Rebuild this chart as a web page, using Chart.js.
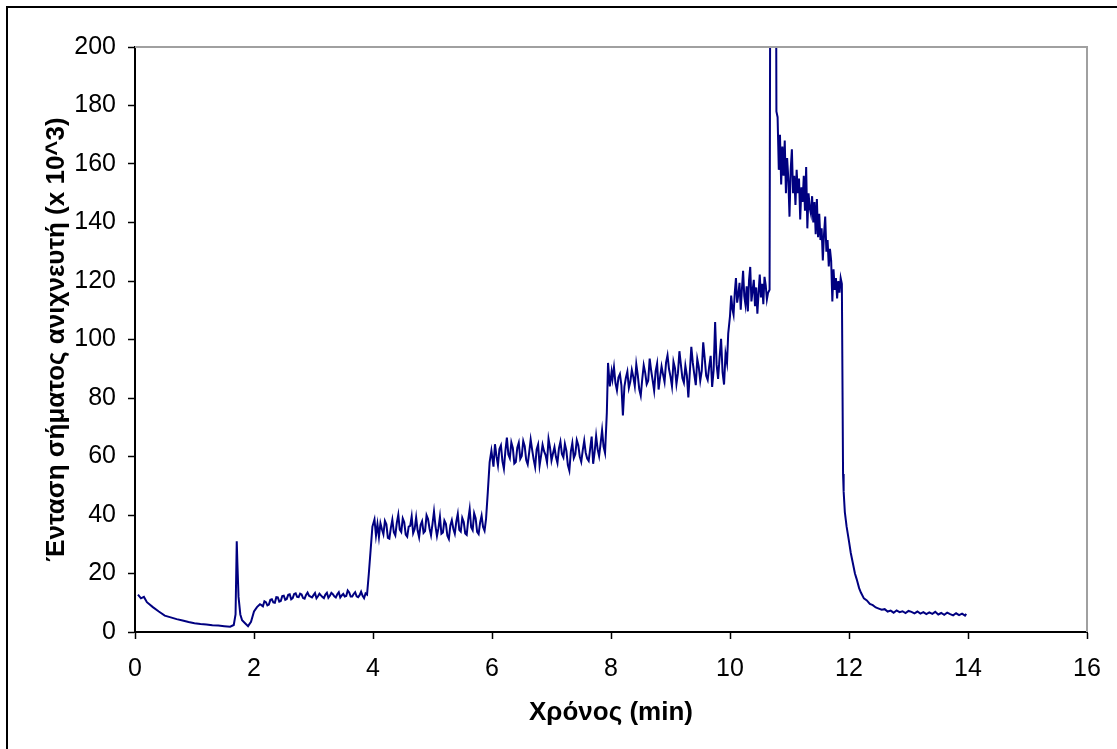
<!DOCTYPE html>
<html>
<head>
<meta charset="utf-8">
<script src="https://cdn.jsdelivr.net/npm/chart.js@4/dist/chart.umd.min.js"></script>
<style>
  html, body { margin: 0; padding: 0; background: #fff; }
  canvas { display: block; }
</style>
</head>
<body>
<canvas id="chart" width="1117" height="749"></canvas>
<script>
// detector signal (x 10^3) against time (min)
const tDecay = [0.05, 0.1, 0.15, 0.2, 0.3, 0.4, 0.5, 0.6, 0.7, 0.8, 0.9, 1.0, 1.1, 1.2, 1.3, 1.4, 1.5, 1.6, 1.66];
const yDecay = [12.8, 11.5, 12.0, 10.2, 8.5, 7.0, 5.6, 5.0, 4.4, 3.9, 3.4, 3.0, 2.7, 2.6, 2.3, 2.2, 2.0, 1.8, 2.4];

const tSpike = [1.69, 1.71, 1.72, 1.74, 1.77, 1.8, 1.85, 1.9, 1.95, 2.0, 2.05, 2.1];
const ySpike = [6, 31, 24, 12, 6, 4, 3, 2.0, 3.5, 7, 8.5, 9.5];

const tLevel1 = [2.125, 2.15, 2.175, 2.2, 2.225, 2.25, 2.275, 2.3, 2.325, 2.35, 2.375, 2.4, 2.425, 2.45, 2.475, 2.5,
                 2.525, 2.55, 2.575, 2.6, 2.625, 2.65, 2.675, 2.7, 2.725, 2.75, 2.775, 2.8, 2.825, 2.85, 2.875, 2.9,
                 2.925, 2.95, 2.975, 3.0, 3.025, 3.05, 3.075, 3.1, 3.125, 3.15, 3.175, 3.2, 3.225, 3.25, 3.275, 3.3,
                 3.325, 3.35, 3.375, 3.4, 3.425, 3.45, 3.475, 3.5, 3.525, 3.55, 3.575, 3.6, 3.625, 3.65, 3.675, 3.7,
                 3.725, 3.75, 3.775, 3.8, 3.825, 3.85, 3.875, 3.9];
const yLevel1 = [9.2, 8.8, 10.5, 10.2, 9.1, 9.4, 11.0, 11.2, 10.1, 10.0, 11.9, 11.8, 10.4, 10.6, 12.3, 12.4,
                 11.0, 11.3, 12.7, 12.9, 11.2, 11.6, 13.0, 13.2, 12.0, 11.9, 13.1, 12.8, 11.6, 11.4, 12.7, 13.5,
                 12.4, 12.1, 11.8, 12.6, 13.3, 11.5, 12.2, 13.1, 12.5, 12.0, 11.6, 12.8, 13.4, 11.7, 12.4, 13.4,
                 12.9, 12.2, 11.8, 12.9, 13.6, 11.8, 12.5, 13.0, 12.1, 12.3, 14.2, 13.5, 12.1, 12.1, 13.0, 13.6,
                 12.2, 11.9, 12.6, 13.8, 12.4, 11.6, 13.2, 12.8];

const tStep1 = [3.93, 3.96, 3.99];
const yStep1 = [20, 28, 36];

const tLevel2 = [4.025, 4.05, 4.075, 4.1, 4.125, 4.15, 4.175, 4.2, 4.225, 4.25, 4.275, 4.3, 4.325, 4.35, 4.375, 4.4,
                 4.425, 4.45, 4.475, 4.5, 4.525, 4.55, 4.575, 4.6, 4.625, 4.65, 4.675, 4.7, 4.725, 4.75, 4.775, 4.8,
                 4.825, 4.85, 4.875, 4.9, 4.925, 4.95, 4.975, 5.0, 5.025, 5.05, 5.075, 5.1, 5.125, 5.15, 5.175, 5.2,
                 5.225, 5.25, 5.275, 5.3, 5.325, 5.35, 5.375, 5.4, 5.425, 5.45, 5.475, 5.5, 5.525, 5.55, 5.575, 5.6,
                 5.625, 5.65, 5.675, 5.7, 5.725, 5.75, 5.775, 5.8, 5.825, 5.85, 5.875, 5.9];
const yLevel2 = [38.5, 33.0, 36.9, 32.5, 37.2, 35.1, 33.4, 38.0, 36.8, 32.2, 31.9, 35.6, 38.4, 34.1, 33.0, 37.3,
                 40.1, 35.0, 34.2, 38.8, 37.5, 33.3, 32.6, 36.0, 36.3, 39.5, 33.8, 35.2, 39.2, 34.7, 32.4, 36.6,
                 37.9, 33.9, 34.5, 39.9, 38.6, 35.4, 33.1, 37.0, 41.2, 36.2, 32.8, 35.5, 39.4, 33.6, 34.0, 38.1,
                 37.0, 32.9, 31.8, 36.4, 38.2, 35.3, 33.6, 37.7, 40.4, 34.9, 34.3, 39.0, 37.6, 33.7, 33.2, 38.3,
                 42.0, 35.8, 34.8, 40.6, 38.9, 34.2, 33.5, 37.4, 39.8, 35.9, 34.6, 38.7];

const tStep2 = [5.93, 5.96, 5.99];
const yStep2 = [48, 58, 62];

const tLevel3 = [6.025, 6.05, 6.075, 6.1, 6.125, 6.15, 6.175, 6.2, 6.225, 6.25, 6.275, 6.3, 6.325, 6.35, 6.375, 6.4,
                 6.425, 6.45, 6.475, 6.5, 6.525, 6.55, 6.575, 6.6, 6.625, 6.65, 6.675, 6.7, 6.725, 6.75, 6.775, 6.8,
                 6.825, 6.85, 6.875, 6.9, 6.925, 6.95, 6.975, 7.0, 7.025, 7.05, 7.075, 7.1, 7.125, 7.15, 7.175, 7.2,
                 7.225, 7.25, 7.275, 7.3, 7.325, 7.35, 7.375, 7.4, 7.425, 7.45, 7.475, 7.5, 7.525, 7.55, 7.575, 7.6,
                 7.625, 7.65, 7.675, 7.7, 7.725, 7.75, 7.775, 7.8, 7.825, 7.85, 7.875, 7.9];
const yLevel3 = [56.5, 64.2, 60.1, 57.0, 62.6, 63.8, 58.4, 55.8, 61.9, 66.5, 60.7, 59.4, 64.8, 62.9, 57.6, 58.1,
                 63.0, 64.7, 59.2, 60.2, 65.3, 63.5, 58.8, 57.3, 61.4, 65.8, 62.3, 59.0, 56.4, 62.4, 64.1, 56.9,
                 60.3, 64.0, 61.8, 60.5, 58.0, 66.0, 63.1, 58.6, 61.0, 63.2, 59.8, 57.8, 62.8, 65.1, 60.9, 59.7,
                 64.3, 62.0, 57.1, 55.2, 61.7, 64.6, 59.5, 60.8, 65.6, 63.9, 60.0, 58.2, 62.1, 65.4, 61.3, 59.3,
                 58.5, 62.7, 66.8, 57.5, 61.6, 67.0, 62.5, 60.1, 64.4, 69.0, 63.4, 61.2];

const tStep3 = [7.93, 7.95, 7.98, 8.01];
const yStep3 = [75, 92, 84, 89];

const tLevel4 = [8.025, 8.05, 8.075, 8.1, 8.125, 8.15, 8.175, 8.2, 8.225, 8.25, 8.275, 8.3, 8.325, 8.35, 8.375, 8.4,
                 8.425, 8.45, 8.475, 8.5, 8.525, 8.55, 8.575, 8.6, 8.625, 8.65, 8.675, 8.7, 8.725, 8.75, 8.775, 8.8,
                 8.825, 8.85, 8.875, 8.9, 8.925, 8.95, 8.975, 9.0, 9.025, 9.05, 9.075, 9.1, 9.125, 9.15, 9.175, 9.2,
                 9.225, 9.25, 9.275, 9.3, 9.325, 9.35, 9.375, 9.4, 9.425, 9.45, 9.475, 9.5, 9.525, 9.55, 9.575, 9.6,
                 9.625, 9.65, 9.675, 9.7, 9.725, 9.75, 9.775, 9.8, 9.825, 9.85, 9.875, 9.9, 9.925, 9.95];
const yLevel4 = [86.5, 90.5, 85.1, 82.6, 87.0, 88.2, 84.3, 74.0, 83.8, 86.9, 89.0, 83.4, 85.6, 89.6, 87.2, 84.1,
                 91.5, 87.8, 83.0, 80.8, 86.4, 91.2, 88.6, 84.7, 85.9, 93.5, 89.4, 86.0, 82.5, 89.2, 91.8, 82.9,
                 87.1, 90.8, 88.0, 85.5, 92.1, 94.6, 89.9, 87.3, 84.0, 92.4, 90.2, 84.8, 88.5, 96.0, 91.3, 86.8,
                 85.2, 91.0, 87.7, 80.2, 88.9, 97.5, 92.0, 88.1, 84.4, 93.3, 90.6, 85.9, 89.3, 99.0, 93.6, 87.6,
                 86.2, 90.7, 94.4, 83.8, 89.5, 106.0, 91.4, 86.5, 93.9, 100.2, 88.8, 84.6, 95.1, 92.0];

const tStep4 = [9.97, 10.0, 10.02];
const yStep4 = [102, 108, 115];

const tLevel5 = [10.04, 10.06, 10.08, 10.1, 10.12, 10.14, 10.16, 10.18, 10.2, 10.22, 10.24, 10.26, 10.28, 10.3, 10.32, 10.34,
                 10.36, 10.38, 10.4, 10.42, 10.44, 10.46, 10.48, 10.5, 10.52, 10.54, 10.56, 10.58, 10.6, 10.62, 10.64];
const yLevel5 = [110.5, 108.5, 116.0, 121.0, 112.6, 115.3, 119.4, 110.2, 117.1, 123.5, 114.8, 111.9, 118.2, 109.6, 120.3, 124.8,
                 113.0, 116.7, 120.4, 111.4, 117.8, 108.8, 115.9, 122.2, 114.4, 119.0, 112.1, 121.4, 118.6, 113.7, 116.0];

// off-scale peak, cut by the 200 limit
const tPeak = [10.665, 10.68, 10.77, 10.78];
const yPeak = [117, 260, 260, 178];

const tFall = [10.8, 10.82, 10.84, 10.86, 10.88, 10.9, 10.92, 10.94, 10.96, 10.98, 11.0, 11.02, 11.04, 11.06,
               11.08, 11.1, 11.12, 11.14, 11.16, 11.18, 11.2, 11.22, 11.24, 11.26, 11.28, 11.3, 11.32, 11.34,
               11.36, 11.38, 11.4, 11.42, 11.44, 11.46, 11.48, 11.5, 11.52, 11.54, 11.56, 11.58, 11.6, 11.62,
               11.64, 11.66, 11.68, 11.7, 11.72, 11.74, 11.76, 11.78, 11.8, 11.82, 11.84, 11.86, 11.88];
const yFall = [176, 158, 170, 153, 166, 156, 168, 150, 162, 155, 142, 158, 165, 150,
               156, 146, 158, 150, 155, 141, 152, 147, 156, 144, 159, 138, 150, 145,
               143, 149, 140, 147, 136, 148, 135, 143, 134, 138, 127, 136, 142, 130,
               134, 125, 131, 127, 113, 124, 117, 121, 114, 120, 116, 121, 119];

const tDrop = [11.9, 11.91, 11.93, 11.96, 12.0, 12.03, 12.06, 12.1, 12.13, 12.17, 12.2, 12.25, 12.3, 12.35,
               12.4, 12.45, 12.5, 12.55, 12.6, 12.65];
const yDrop = [54, 48, 41, 36, 31, 27, 24, 20, 18, 15, 13.5, 11.5, 10.8, 9.6,
               9.2, 8.4, 8.0, 7.6, 7.8, 7.0];

const tTail = [12.7, 12.75, 12.8, 12.85, 12.9, 12.95, 13.0, 13.05, 13.1, 13.15, 13.2, 13.25, 13.3, 13.35,
               13.4, 13.45, 13.5, 13.55, 13.6, 13.65, 13.7, 13.75, 13.8, 13.85, 13.9, 13.95, 13.97];
const yTail = [7.3, 6.6, 7.4, 6.8, 7.1, 6.5, 7.2, 6.9, 6.4, 7.0, 6.3, 6.8, 6.1, 6.7,
               6.2, 6.9, 6.0, 6.5, 5.9, 6.6, 6.1, 5.7, 6.4, 5.8, 6.3, 5.6, 6.2];

const xTicks = [0, 2, 4, 6, 8, 10, 12, 14, 16];
const yTicks = [0, 20, 40, 60, 80, 100, 120, 140, 160, 180, 200];

const segments = [
  [tDecay, yDecay], [tSpike, ySpike], [tLevel1, yLevel1], [tStep1, yStep1], [tLevel2, yLevel2],
  [tStep2, yStep2], [tLevel3, yLevel3], [tStep3, yStep3], [tLevel4, yLevel4], [tStep4, yStep4],
  [tLevel5, yLevel5], [tPeak, yPeak], [tFall, yFall], [tDrop, yDrop], [tTail, yTail]
];
const points = [];
segments.forEach(([ts, ys]) => ts.forEach((t, i) => points.push({ x: t, y: ys[i] })));

const FONT = 'Arial, "Liberation Sans", sans-serif';

// grey top/right edge of the plot area and the black frame of the picture
const framePlugin = {
  id: 'frame',
  afterDraw(chart) {
    const { ctx, chartArea: a } = chart;
    ctx.save();
    ctx.strokeStyle = '#a0a0a0';
    ctx.lineWidth = 2;
    ctx.beginPath();
    ctx.moveTo(a.left, a.top);
    ctx.lineTo(a.right, a.top);
    ctx.lineTo(a.right, a.bottom);
    ctx.stroke();
    ctx.strokeStyle = '#000';
    ctx.beginPath();
    ctx.moveTo(7, 749);
    ctx.lineTo(7, 7);
    ctx.lineTo(1117, 7);
    ctx.stroke();
    ctx.restore();
  }
};

new Chart(document.getElementById('chart'), {
  type: 'line',
  data: {
    datasets: [{
      data: points,
      borderColor: '#000080',
      borderWidth: 2,
      pointRadius: 0,
      tension: 0,
      fill: false
    }]
  },
  options: {
    responsive: false,
    devicePixelRatio: 1,
    animation: false,
    layout: { padding: { left: 8, top: 47, right: 30, bottom: 0 } },
    plugins: {
      legend: { display: false },
      tooltip: { enabled: false }
    },
    scales: {
      x: {
        type: 'linear',
        min: 0,
        max: 16,
        afterBuildTicks: (s) => { s.ticks = xTicks.map(v => ({ value: v })); },
        afterFit: (s) => { s.height = 117; },
        ticks: { color: '#000', font: { family: FONT, size: 25 }, padding: 15, maxRotation: 0 },
        grid: { drawOnChartArea: false, drawTicks: true, tickLength: 7, tickWidth: 1.5, color: '#000' },
        border: { color: '#000', width: 2 },
        title: {
          display: true,
          text: 'Χρόνος (min)',
          color: '#000',
          font: { family: FONT, size: 26, weight: 'bold' },
          padding: { top: 0, bottom: 21 }
        }
      },
      y: {
        min: 0,
        max: 200,
        afterBuildTicks: (s) => { s.ticks = yTicks.map(v => ({ value: v })); },
        afterFit: (s) => { s.width = 127; },
        ticks: { color: '#000', font: { family: FONT, size: 25 }, padding: 12 },
        grid: { drawOnChartArea: false, drawTicks: true, tickLength: 7, tickWidth: 1.5, color: '#000' },
        border: { color: '#000', width: 2 },
        title: {
          display: true,
          text: 'Ένταση σήματος ανιχνευτή (x 10^3)',
          color: '#000',
          font: { family: FONT, size: 26, weight: 'bold' },
          padding: { top: 33, bottom: 0 }
        }
      }
    }
  },
  plugins: [framePlugin]
});
</script>
</body>
</html>
